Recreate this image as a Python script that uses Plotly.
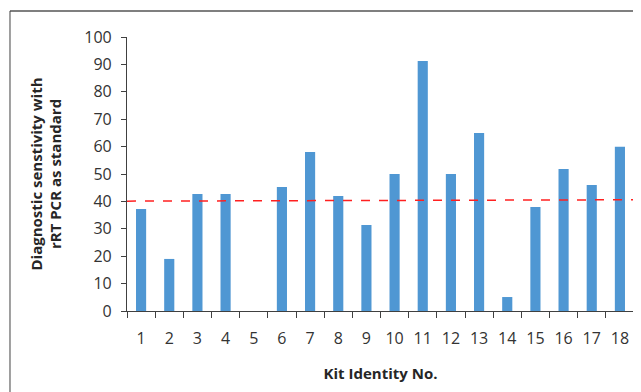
import plotly.graph_objects as go

kits = [str(i) for i in range(1, 19)]
sensitivity = [37.2, 19.0, 42.7, 42.7, 0, 45.3, 58.0, 42.0, 31.4, 50.0,
               91.2, 50.0, 65.0, 5.1, 38.0, 51.8, 46.0, 59.9]
reference_line = [40.1, 40.6]  # start/end of dashed reference line
y_ticks = list(range(0, 101, 10))

FONT = "Open Sans, Liberation Sans, sans-serif"
TXT = "#333333"

fig = go.Figure()
fig.add_trace(go.Bar(x=kits, y=sensitivity, marker_color="#4F97D3",
                     marker_line_width=0, width=0.36))

fig.add_shape(type="line", xref="x domain", yref="y", x0=0, x1=1,
              y0=reference_line[0], y1=reference_line[1],
              line=dict(color="#FF2020", width=1.5, dash="dash"))

# outer frame (top and left edges visible)
fig.add_shape(type="line", xref="paper", yref="paper", x0=-0.2308, x1=1.02,
              y0=1.0949, y1=1.0949, line=dict(color="#7F7F7F", width=2))
fig.add_shape(type="line", xref="paper", yref="paper", x0=-0.2308, x1=-0.2308,
              y0=-0.3, y1=1.0949, line=dict(color="#404040", width=1))

fig.update_layout(
    width=633, height=384,
    margin=dict(l=119, r=7, t=29, b=81),
    plot_bgcolor="white", paper_bgcolor="white",
    showlegend=False, bargap=0.64,
    font=dict(family=FONT, color=TXT, size=15),
    xaxis=dict(type="category", showline=True, linecolor="#404040", linewidth=1.2,
               ticks="outside", tickson="boundaries", ticklen=6,
               tickcolor="#404040", tickwidth=1.2, ticklabelstandoff=13,
               tickfont=dict(size=16, color=TXT, family=FONT),
               title=dict(text="<b>Kit Identity No.</b>", standoff=20,
                          font=dict(size=15, color="#262626", family=FONT)),
               showgrid=False, range=[-0.5, 17.5]),
    yaxis=dict(range=[0, 100], tickvals=y_ticks, showline=True,
               linecolor="#404040", linewidth=1.2, ticks="outside", ticklen=5,
               tickcolor="#404040", tickwidth=1.2, showgrid=False, zeroline=False,
               ticklabelstandoff=6,
               tickfont=dict(size=16, color=TXT, family=FONT),
               title=dict(text="<b>Diagnostic senstivity with<br>rRT PCR as standard</b>",
                          standoff=18,
                          font=dict(size=15, color="#262626", family=FONT))),
)

fig.write_html("out.html")
